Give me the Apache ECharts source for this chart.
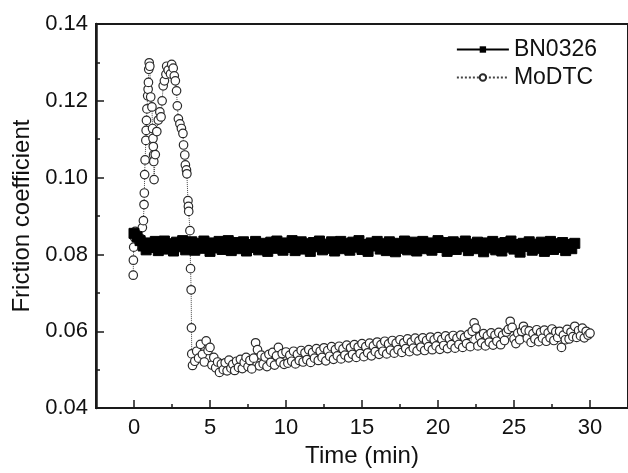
<!DOCTYPE html>
<html>
<head>
<meta charset="utf-8">
<script src="https://cdn.jsdelivr.net/npm/echarts@6/dist/echarts.min.js"></script>
<style>html,body{margin:0;padding:0;background:#fff;}#chart{width:628px;height:473px;}</style>
</head>
<body>
<div id="chart"></div>
<script>
// ---- Data ----
var xMajorTicks = [0, 5, 10, 15, 20, 25, 30];
var xMinorTicks = [2.5, 7.5, 12.5, 17.5, 22.5, 27.5];

// BN0326: sampled every 0.2 min from 0 to 29 min
var bnStart = 0, bnStep = 0.2;
var bnValues = [
  0.0855, 0.0846, 0.0836, 0.0822, 0.0812, 0.0830, 0.0818, 0.0834, 0.0810, 0.0826,
  0.0835, 0.0814, 0.0828, 0.0809, 0.0832, 0.0820, 0.0836, 0.0812, 0.0825, 0.0833,
  0.0811, 0.0829, 0.0816, 0.0835, 0.0822, 0.0808, 0.0830, 0.0817, 0.0834, 0.0813,
  0.0827, 0.0836, 0.0810, 0.0824, 0.0831, 0.0815, 0.0833, 0.0809, 0.0826, 0.0818,
  0.0834, 0.0812, 0.0829, 0.0821, 0.0808, 0.0832, 0.0816, 0.0835, 0.0823, 0.0811,
  0.0830, 0.0818, 0.0836, 0.0810, 0.0825, 0.0833, 0.0814, 0.0828, 0.0808, 0.0831,
  0.0820, 0.0835, 0.0812, 0.0827, 0.0816, 0.0833, 0.0809, 0.0824, 0.0834, 0.0815,
  0.0829, 0.0811, 0.0832, 0.0819, 0.0836, 0.0813, 0.0826, 0.0808, 0.0830, 0.0822,
  0.0834, 0.0814, 0.0828, 0.0810, 0.0833, 0.0821, 0.0807, 0.0829, 0.0816, 0.0835,
  0.0812, 0.0826, 0.0832, 0.0809, 0.0823, 0.0834, 0.0815, 0.0830, 0.0811, 0.0827,
  0.0836, 0.0818, 0.0831, 0.0808, 0.0825, 0.0833, 0.0813, 0.0829, 0.0820, 0.0835,
  0.0810, 0.0827, 0.0815, 0.0832, 0.0822, 0.0807, 0.0830, 0.0817, 0.0834, 0.0812,
  0.0828, 0.0809, 0.0831, 0.0819, 0.0835, 0.0814, 0.0826, 0.0806, 0.0829, 0.0821,
  0.0833, 0.0811, 0.0827, 0.0816, 0.0832, 0.0808, 0.0824, 0.0834, 0.0813, 0.0828,
  0.0818, 0.0831, 0.0810, 0.0826, 0.0815, 0.0829
];

// MoDTC: running-in phase (irregular times)
var modtcEarlyTimes = [
  -0.05, -0.04, -0.02, 0.02, 0.08, 0.30, 0.45, 0.55, 0.62, 0.66,
  0.68, 0.70, 0.73, 0.78, 0.80, 0.82, 0.85, 0.90, 0.93, 0.95,
  0.97, 1.00, 1.04, 1.10, 1.18, 1.22, 1.25, 1.27, 1.29, 1.30,
  1.32, 1.40, 1.50, 1.60, 1.70, 1.78, 1.85, 1.92, 2.00, 2.10,
  2.15, 2.25, 2.40, 2.48, 2.58, 2.65, 2.72, 2.80, 2.85, 2.92,
  3.02, 3.12, 3.22, 3.26, 3.34, 3.38, 3.45, 3.48, 3.55, 3.58,
  3.60, 3.68, 3.72, 3.76, 3.78, 3.80, 3.85
];
var modtcEarlyValues = [
  0.0746, 0.0785, 0.0819, 0.0845, 0.0860, 0.0835, 0.0842, 0.0870, 0.0888, 0.0930,
  0.0960, 0.1008, 0.1046, 0.1097, 0.1123, 0.1149, 0.1179, 0.1213, 0.1230, 0.1248,
  0.1282, 0.1299, 0.1290, 0.1210, 0.1184, 0.1128, 0.1102, 0.1081, 0.1059, 0.1042,
  0.0995, 0.1060, 0.1120, 0.1150, 0.1171, 0.1158, 0.1200, 0.1239, 0.1252, 0.1269,
  0.1290, 0.1280, 0.1270, 0.1295, 0.1285, 0.1265, 0.1252, 0.1226, 0.1187, 0.1153,
  0.1140, 0.1128, 0.1115, 0.1085, 0.1059, 0.1033, 0.1020, 0.1010, 0.0940, 0.0925,
  0.0912, 0.0862, 0.0763, 0.0708, 0.0609, 0.0541, 0.0511
];

// MoDTC: steady phase, sampled every 0.125 min from 4 to 30 min
var modtcLateStart = 4.0, modtcLateStep = 0.125;
var modtcLateValues = [
  0.0522, 0.0548, 0.0530, 0.0566, 0.0540, 0.0520, 0.0575, 0.0550,
  0.0558, 0.0512, 0.0532, 0.0505, 0.0520, 0.0493, 0.0515, 0.0500,
  0.0518, 0.0497, 0.0525, 0.0504, 0.0514, 0.0498, 0.0522, 0.0506,
  0.0527, 0.0503, 0.0519, 0.0532, 0.0508, 0.0524, 0.0502, 0.0530,
  0.0570, 0.0552, 0.0510, 0.0538, 0.0515, 0.0533, 0.0508, 0.0540,
  0.0519, 0.0545, 0.0512, 0.0536, 0.0558, 0.0520, 0.0542, 0.0514,
  0.0546, 0.0517, 0.0538, 0.0522, 0.0548, 0.0515, 0.0540, 0.0524,
  0.0550, 0.0520, 0.0544, 0.0526, 0.0552, 0.0519, 0.0545, 0.0530,
  0.0555, 0.0524, 0.0548, 0.0532, 0.0557, 0.0523, 0.0550, 0.0535,
  0.0560, 0.0527, 0.0552, 0.0536, 0.0561, 0.0528, 0.0554, 0.0538,
  0.0564, 0.0531, 0.0557, 0.0540, 0.0565, 0.0532, 0.0559, 0.0542,
  0.0568, 0.0534, 0.0560, 0.0544, 0.0569, 0.0536, 0.0562, 0.0547,
  0.0572, 0.0540, 0.0565, 0.0548, 0.0574, 0.0541, 0.0567, 0.0551,
  0.0576, 0.0543, 0.0569, 0.0552, 0.0578, 0.0545, 0.0570, 0.0555,
  0.0580, 0.0547, 0.0572, 0.0556, 0.0582, 0.0549, 0.0575, 0.0559,
  0.0583, 0.0550, 0.0576, 0.0560, 0.0585, 0.0552, 0.0578, 0.0562,
  0.0586, 0.0553, 0.0579, 0.0563, 0.0588, 0.0555, 0.0581, 0.0565,
  0.0589, 0.0556, 0.0582, 0.0566, 0.0590, 0.0558, 0.0584, 0.0568,
  0.0592, 0.0560, 0.0600, 0.0622, 0.0608, 0.0562, 0.0586, 0.0570,
  0.0594, 0.0562, 0.0588, 0.0572, 0.0596, 0.0564, 0.0590, 0.0574,
  0.0597, 0.0565, 0.0590, 0.0576, 0.0598, 0.0605, 0.0626, 0.0610,
  0.0580, 0.0568, 0.0595, 0.0578, 0.0600, 0.0613, 0.0603, 0.0582,
  0.0601, 0.0571, 0.0594, 0.0580, 0.0604, 0.0573, 0.0597, 0.0582,
  0.0603, 0.0574, 0.0596, 0.0583, 0.0606, 0.0576, 0.0599, 0.0584,
  0.0600, 0.0558, 0.0590, 0.0578, 0.0605, 0.0580, 0.0598, 0.0586,
  0.0613, 0.0584, 0.0602, 0.0588, 0.0608, 0.0583, 0.0600, 0.0590,
  0.0595
];

// ---- Build series data ----
function round(v){ return Math.round(v * 1000) / 1000; }
var bnData = bnValues.map(function(v, i){ return [round(bnStart + i * bnStep), v]; });
var modtcData = modtcEarlyTimes.map(function(t, i){ return [t, modtcEarlyValues[i]]; })
  .concat(modtcLateValues.map(function(v, i){ return [round(modtcLateStart + i * modtcLateStep), v]; }));

var FONT = '"Liberation Sans", Arial, sans-serif';
var chart = echarts.init(document.getElementById('chart'), null, {renderer: 'canvas'});
chart.setOption({
  animation: false,
  backgroundColor: '#fff',
  grid: { left: 96, top: 24, right: -2, bottom: 60, show: true, borderColor: '#1a1a1a', borderWidth: 2, backgroundColor: 'rgba(0,0,0,0)' },
  legend: {
    data: ['BN0326', 'MoDTC'],
    orient: 'vertical',
    right: 26, top: 33,
    itemWidth: 52, itemHeight: 8, itemGap: 5,
    textStyle: { fontFamily: FONT, fontSize: 23, color: '#111' }
  },
  xAxis: [{
    type: 'value', min: -2.5, max: 32.5, position: 'bottom',
    name: 'Time (min)', nameLocation: 'middle', nameGap: 33,
    nameTextStyle: { fontFamily: FONT, fontSize: 24, color: '#111' },
    axisLine: { show: true, onZero: false, lineStyle: { color: '#1a1a1a', width: 2 } },
    axisTick: { show: true, inside: true, length: 8, customValues: xMajorTicks, lineStyle: { color: '#1a1a1a', width: 1.5 } },
    axisLabel: { show: true, margin: 9, customValues: xMajorTicks, fontFamily: FONT, fontSize: 22, color: '#111' },
    splitLine: { show: false }
  }, {
    type: 'value', min: -2.5, max: 32.5, position: 'bottom',
    axisLine: { show: false, onZero: false },
    axisTick: { show: true, inside: true, length: 4, customValues: xMinorTicks, lineStyle: { color: '#1a1a1a', width: 1.5 } },
    axisLabel: { show: false },
    splitLine: { show: false }
  }],
  yAxis: {
    type: 'value', position: 'left', min: 0.04, max: 0.14, interval: 0.02,
    name: 'Friction coefficient', nameLocation: 'middle', nameGap: 62,
    nameTextStyle: { fontFamily: FONT, fontSize: 24, color: '#111' },
    axisLine: { show: true, onZero: false, lineStyle: { color: '#1a1a1a', width: 2.5 } },
    axisTick: { show: true, inside: true, length: 8, lineStyle: { color: '#1a1a1a', width: 1.5 } },
    minorTick: { show: true, splitNumber: 2, length: 4, lineStyle: { color: '#1a1a1a', width: 1.5 } },
    axisLabel: { margin: 8, fontFamily: FONT, fontSize: 22, color: '#111', formatter: function(v){ return v.toFixed(2); } },
    splitLine: { show: false }
  },
  series: [{
    name: 'MoDTC', type: 'line', data: modtcData,
    showAllSymbol: true, symbol: 'circle', symbolSize: 8.5,
    itemStyle: { color: '#fff', borderColor: '#2a2a2a', borderWidth: 1.2 },
    lineStyle: { color: '#444', width: 1, type: 'dotted' },
    z: 2
  }, {
    name: 'BN0326', type: 'line', data: bnData,
    showAllSymbol: true, symbol: 'rect', symbolSize: 10,
    itemStyle: { color: '#000', borderColor: '#000' },
    lineStyle: { color: '#000', width: 1.2, type: 'solid' },
    z: 3
  }]
});
</script>
</body>
</html>
